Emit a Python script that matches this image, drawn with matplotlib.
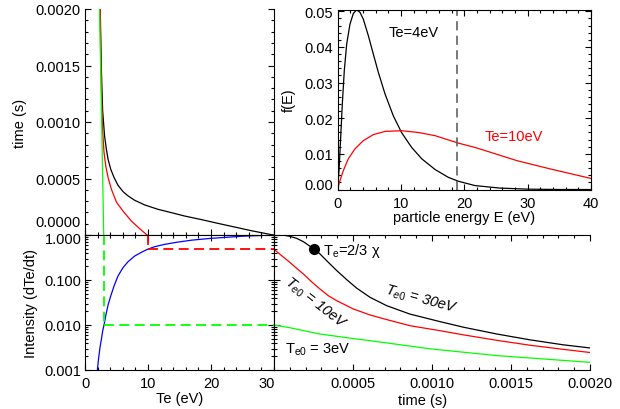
import matplotlib
matplotlib.use('Agg')
import matplotlib.pyplot as plt
from matplotlib.ticker import MultipleLocator, FixedLocator, LogLocator, NullFormatter, FormatStrFormatter

plt.rcParams['font.family'] = ['Liberation Sans', 'DejaVu Sans']
plt.rcParams['font.size'] = 10.5
plt.rcParams['mathtext.fontset'] = 'custom'
plt.rcParams['mathtext.rm'] = 'Liberation Sans'
plt.rcParams['mathtext.it'] = 'Liberation Sans:italic'
plt.rcParams['mathtext.bf'] = 'Liberation Sans:bold'
plt.rcParams['axes.linewidth'] = 0.8

# --- top left: time vs Te (cooling curves)
te_black_tl = [30, 29.6, 26.4, 23.8, 21.1, 18.5, 15.8, 13.7, 11.6, 9.48, 7.89, 6.83, 6.04, 5.24,
               4.61, 4.08, 3.66, 3.39, 3.1, 2.8, 2.58, 2.42]
t_black_tl = [0, 0.000003, 0.000038, 0.00007, 0.000103, 0.000136, 0.000168, 0.000198, 0.000227,
              0.000266, 0.000307, 0.000346, 0.000384, 0.00044, 0.000509, 0.000583, 0.000671,
              0.00076, 0.00088, 0.0011, 0.0015, 0.002]
te_red_tl = [9.9, 9.74, 8.68, 7.37, 6.03, 5.0, 4.19, 3.66, 3.29, 3.02, 2.8, 2.65, 2.52, 2.4]
t_red_tl = [0, 0.000005, 0.000056, 0.000123, 0.000212, 0.00029, 0.000405, 0.000509, 0.000612,
            0.000731, 0.00092, 0.0012, 0.0015, 0.002]
te_green_tl = [2.97, 2.65, 2.3]
t_green_tl = [0, 0.001, 0.002]

# --- top right: energy distributions
e_vals_4 = [0, 0.24, 0.5, 0.76, 1.07, 1.45, 1.97, 2.5, 3.03, 3.55, 4.07, 4.86, 5.65, 6.44, 7.5,
            8.8, 10.1, 11.7, 13.3, 15.4, 17.5, 19.1, 21.7, 25.6, 30, 35, 40]
f_vals_4 = [0, 0.0053, 0.0146, 0.024, 0.0333, 0.0408, 0.0464, 0.0494, 0.0504, 0.0497, 0.0478,
            0.0432, 0.038, 0.0329, 0.0268, 0.0207, 0.016, 0.0118, 0.0086, 0.0056, 0.0034,
            0.0023, 0.0011, 0.0004, 0.0001, 0.0, 0.0]
e_vals_10 = [0, 0.39, 0.92, 1.7, 2.76, 4.07, 5.65, 7.5, 10.1, 12.75, 15.4, 19.1, 21.7, 23.5,
             28.3, 33.5, 40]
f_vals_10 = [0, 0.0025, 0.0053, 0.0086, 0.0114, 0.0137, 0.0154, 0.0163, 0.0165, 0.016, 0.0151,
             0.013, 0.0118, 0.0108, 0.0081, 0.0058, 0.0031]
e_chi = 18.8

# --- bottom left: intensity vs Te
te_blue = [1.96, 2.17, 2.38, 2.6, 2.81, 3.02, 3.34, 3.66, 4.08, 4.61, 5.24, 6.03, 6.83, 7.89,
           8.95, 9.9, 11.06, 12.65, 14.5, 17.0, 19.9, 25, 30]
i_blue = [0.001, 0.00187, 0.00316, 0.00479, 0.0074, 0.01, 0.0174, 0.0278, 0.044, 0.0736, 0.123,
          0.188, 0.255, 0.341, 0.412, 0.48, 0.55, 0.62, 0.687, 0.77, 0.84, 0.94, 1.0]
te0 = [3, 10]
i_te0 = [0.01, 0.48]

# --- bottom right: intensity vs time
t_black_br = [0, 0.000059, 0.0001, 0.000143, 0.000186, 0.000228, 0.000255, 0.000291, 0.000333,
              0.000397, 0.00046, 0.000523, 0.000608, 0.000713, 0.00086, 0.00105, 0.0012,
              0.00141, 0.00162, 0.00183, 0.002]
i_black_br = [1.0, 0.995, 0.935, 0.843, 0.711, 0.56, 0.48, 0.38, 0.269, 0.162, 0.102, 0.066,
              0.0412, 0.0269, 0.0175, 0.0119, 0.00891, 0.00631, 0.00468, 0.00363, 0.00309]
t_red_br = [0, 0.0000485, 0.0001, 0.000143, 0.000186, 0.000238, 0.000291, 0.000344, 0.000397,
            0.000502, 0.000608, 0.000713, 0.00086, 0.00105, 0.0012, 0.00141, 0.00162,
            0.00183, 0.002]
i_red_br = [0.48, 0.347, 0.247, 0.182, 0.136, 0.0912, 0.063, 0.0447, 0.0347, 0.0227, 0.0167,
            0.0132, 0.00966, 0.00748, 0.00603, 0.00457, 0.00355, 0.00288, 0.00245]
t_green_br = [0, 0.0001, 0.00029, 0.000502, 0.000713, 0.00099, 0.00141, 0.002]
i_green_br = [0.01, 0.0087, 0.0063, 0.005, 0.004, 0.00295, 0.00209, 0.00148]
t_dot = 0.000255
i_dot = 0.48

GREEN = '#00ff00'
RED = '#ff0000'
BLUE = '#0000ff'
LW = 0.9


def style(ax):
    ax.tick_params(which='both', direction='in', width=0.8)
    ax.tick_params(which='major', length=4.3)
    ax.tick_params(which='minor', length=2.2)


fig = plt.figure(figsize=(6.2, 4.1), dpi=100)

# top left
ax1 = fig.add_axes([85 / 620, 1 - 236 / 410, 189 / 620, 226 / 410])
ax1.plot(te_black_tl, t_black_tl, color='k', lw=LW)
ax1.plot(te_red_tl, t_red_tl, color=RED, lw=LW)
ax1.plot(te_green_tl, t_green_tl, color=GREEN, lw=LW)
ax1.set_xlim(0, 30)
ax1.set_ylim(0, 0.002)
ax1.spines['top'].set_visible(False)
style(ax1)
ax1.xaxis.set_major_locator(MultipleLocator(10))
ax1.xaxis.set_minor_locator(MultipleLocator(2))
ax1.tick_params(axis='x', which='both', labelbottom=False, bottom=True, top=False)
ax1.yaxis.set_major_locator(FixedLocator([0.0005, 0.001, 0.0015, 0.002]))
ax1.yaxis.set_minor_locator(MultipleLocator(0.0001))
ax1.yaxis.set_major_formatter(FormatStrFormatter('%.4f'))
ax1.tick_params(axis='y', which='both', left=True, right=True, labelright=False, pad=3.5)
ax1.annotate('0.0000', xy=(0, 0), xycoords=('axes fraction', 'data'), xytext=(-3.5, 9.5),
             textcoords='offset points', ha='right', va='center')
ax1.set_ylabel('time (s)', labelpad=6)

# bottom left
ax3 = fig.add_axes([85 / 620, 1 - 371 / 410, 189 / 620, 135 / 410])
ax3.set_yscale('log')
ax3.plot(te_blue, i_blue, color=BLUE, lw=LW)
for x0, y0, c in zip(te0, i_te0, [GREEN, RED]):
    ax3.plot([x0, x0], [1.0, y0], color=c, lw=1.3, dashes=(5.5, 3))
    ax3.plot([x0, 30], [y0, y0], color=c, lw=1.3, dashes=(5.5, 3))
ax3.set_xlim(0, 30)
ax3.set_ylim(0.001, 1.0)
style(ax3)
ax3.xaxis.set_major_locator(FixedLocator([0, 10, 20]))
ax3.xaxis.set_minor_locator(MultipleLocator(2))
ax3.yaxis.set_major_locator(FixedLocator([0.001, 0.01, 0.1, 1.0]))
ax3.yaxis.set_major_formatter(FormatStrFormatter('%.3f'))
ax3.yaxis.set_minor_locator(LogLocator(subs=range(2, 10)))
ax3.yaxis.set_minor_formatter(NullFormatter())
ax3.tick_params(which='both', left=True, right=True, top=True, bottom=True)
ax3.tick_params(axis='y', pad=2.5)
ax3.tick_params(axis='x', pad=4)
ax3.get_yticklabels()[-1].set_visible(False)
ax3.annotate('1.000', xy=(0, 1.0), xycoords=('axes fraction', 'data'), xytext=(-2.5, -3),
             textcoords='offset points', ha='right', va='center')
ax3.annotate('30', xy=(30, 0.001), xycoords='data', xytext=(-5.5, -4),
             textcoords='offset points', ha='center', va='top')
ax3.set_ylabel('Intensity (dTe/dt)', labelpad=5)
ax3.set_xlabel('Te (eV)', labelpad=1)

# bottom right
ax4 = fig.add_axes([274 / 620, 1 - 371 / 410, 316 / 620, 135 / 410])
ax4.set_yscale('log')
ax4.plot(t_black_br, i_black_br, color='k', lw=LW)
ax4.plot(t_red_br, i_red_br, color=RED, lw=LW)
ax4.plot(t_green_br, i_green_br, color=GREEN, lw=LW)
ax4.plot([t_dot], [i_dot], 'o', color='k', ms=7)
ax4.set_xlim(0, 0.002)
ax4.set_ylim(0.001, 1.0)
ax4.spines['right'].set_visible(False)
style(ax4)
ax4.xaxis.set_major_locator(FixedLocator([0.0005, 0.001, 0.0015, 0.002]))
ax4.xaxis.set_minor_locator(MultipleLocator(0.0001))
ax4.xaxis.set_major_formatter(FormatStrFormatter('%.4f'))
ax4.yaxis.set_minor_locator(LogLocator(subs=range(2, 10)))
ax4.tick_params(which='both', left=True, right=False, top=True, bottom=True,
                labelleft=False)
ax4.tick_params(axis='x', pad=4)
ax4.set_xlabel('time (s)', labelpad=1)
ax4.xaxis.set_label_coords((423 - 274) / 316, -0.17)
ax4.text(0.000312, 0.47, r'T$_\mathrm{e}$=2/3 χ', ha='left', va='center')
ax4.text(0.00093, 0.038, r'$T_{e0}$ = 30eV', style='italic', rotation=-15,
         ha='center', va='center', rotation_mode='anchor')
ax4.text(0.00026, 0.031, r'$T_{e0}$ = 10eV', style='italic', rotation=-38,
         ha='center', va='center', rotation_mode='anchor')
ax4.text(0.00007, 0.0029, r'T$_\mathrm{e0}$ = 3eV', ha='left', va='center')

# top right inset
ax2 = fig.add_axes([337.5 / 620, 1 - 190.5 / 410, 253.5 / 620, 180 / 410])
ax2.plot(e_vals_4, f_vals_4, color='k', lw=LW)
ax2.plot(e_vals_10, f_vals_10, color=RED, lw=LW)
ax2.axvline(e_chi, color='#555555', lw=1.1, dashes=(6, 3.5))
ax2.set_xlim(0, 40)
ax2.set_ylim(0, 0.0505)
style(ax2)
ax2.xaxis.set_major_locator(MultipleLocator(10))
ax2.xaxis.set_minor_locator(MultipleLocator(2))
ax2.yaxis.set_major_locator(FixedLocator([0.01, 0.02, 0.03, 0.04, 0.05]))
ax2.yaxis.set_minor_locator(MultipleLocator(0.002))
ax2.yaxis.set_major_formatter(FormatStrFormatter('%.2f'))
ax2.tick_params(which='both', left=True, right=True, top=True, bottom=True)
ax2.tick_params(axis='y', pad=3.5)
ax2.tick_params(axis='x', pad=4.5)
ax2.annotate('0.00', xy=(0, 0), xycoords=('axes fraction', 'data'), xytext=(-3.5, 3.5),
             textcoords='offset points', ha='right', va='center')
ax2.set_xlabel('particle energy E (eV)', labelpad=0)
ax2.set_ylabel('f(E)', labelpad=6)
ax2.text(8.0, 0.0442, 'Te=4eV', ha='left', va='center')
ax2.text(23.2, 0.0150, 'Te=10eV', ha='left', va='center', color=RED)

fig.savefig('out.png', dpi=100)
